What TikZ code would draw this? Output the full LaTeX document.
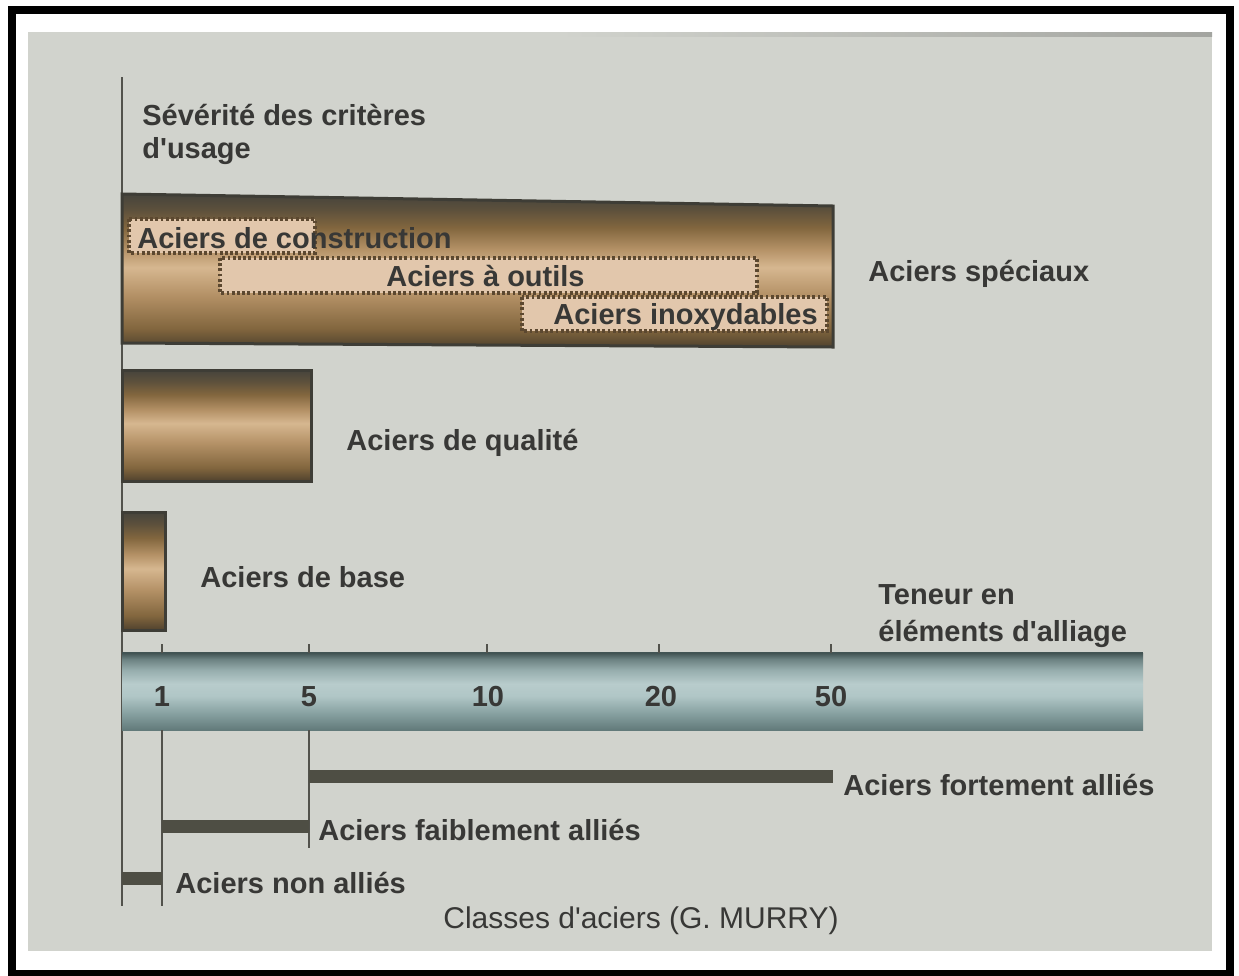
\documentclass[tikz,border=0pt]{standalone}
\usepackage{fontspec}
\setmainfont[Ligatures=TeXOff]{Liberation Sans}
\definecolor{slide}{RGB}{209,211,205}
\definecolor{txt}{RGB}{56,56,54}
\definecolor{axisc}{RGB}{82,82,76}
\definecolor{boxfill}{RGB}{226,199,172}
\definecolor{boxline}{RGB}{92,72,48}
\definecolor{classbar}{RGB}{78,78,68}
\definecolor{barline}{RGB}{62,61,54}
\definecolor{brA}{RGB}{80,66,46}
\definecolor{brB}{RGB}{130,102,62}
\definecolor{brC}{RGB}{180,145,102}
\definecolor{brD}{RGB}{214,183,144}
\definecolor{brE}{RGB}{92,80,60}
\definecolor{brF}{RGB}{70,68,60}
\definecolor{tA}{RGB}{98,122,122}
\definecolor{tB}{RGB}{132,158,158}
\definecolor{tC}{RGB}{176,198,198}
\definecolor{tD}{RGB}{184,204,204}
\definecolor{tE}{RGB}{150,173,173}
\definecolor{tG}{RGB}{108,130,130}
\definecolor{tF}{RGB}{66,84,84}
\pgfdeclareverticalshading{brass}{100bp}{color(0bp)=(brA); color(25bp)=(brA); color(31bp)=(brB); color(42bp)=(brC); color(51bp)=(brD); color(57bp)=(brC); color(64bp)=(brB); color(70bp)=(brE); color(75bp)=(brF); color(100bp)=(brF)}
\pgfdeclareverticalshading{tealbar}{100bp}{color(0bp)=(tA); color(25bp)=(tA); color(35bp)=(tB); color(47bp)=(tC); color(55bp)=(tD); color(64bp)=(tE); color(71bp)=(tG); color(75bp)=(tF); color(100bp)=(tF)}
\tikzset{
  lbl/.style={font=\fontsize{14.5}{17}\selectfont\bfseries, text=txt, inner sep=0pt, anchor=base west},
  numlbl/.style={font=\fontsize{14.5}{17}\selectfont\bfseries, text=txt, inner sep=0pt, anchor=base},
  caption/.style={font=\fontsize{15}{18}\selectfont, text=txt, inner sep=0pt, anchor=base},
  axisline/.style={draw=axisc, line width=1pt},
  brassbar/.style={shading=brass, draw=barline, line width=1.5pt},
  dotbox/.style={fill=boxfill, draw=boxline, line width=1.6pt, dash pattern=on 1.4pt off 1.2pt},
  classbarst/.style={fill=classbar},
}
\begin{document}
\begin{tikzpicture}[x=0.5pt,y=-0.5pt]
\useasboundingbox (0,0) rectangle (1239,976);
\fill[white] (0,0) rectangle (1239,976);
% slide
\fill[slide] (28,32) rectangle (1212,951);
\shade[left color=slide, right color=black!22!slide] (560,32) rectangle (1212,36);
% frame
\draw[black, line width=4pt] (11.5,10) rectangle (1230,974);

% main vertical axis
\draw[axisline] (122,77) -- (122,906);

% title
\node[lbl] (title1) at (142,125) {Sévérité des critères};
\node[lbl] (title2) at (142,158) {d'usage};

% Aciers spéciaux bar
\path[brassbar] (122,194) -- (833,206) -- (833,347) -- (122,343) -- cycle;
\path[dotbox] (129,219) rectangle (315,253);
\path[dotbox] (220,258) rectangle (757,293);
\path[dotbox] (522,297) rectangle (827,331);
\node[lbl] (constr) at (137,248) {Aciers de construction};
\node[lbl] (outils) at (386,286) {Aciers à outils};
\node[lbl] (inox) at (553,324) {Aciers inoxydables};
\node[lbl] (spec) at (868,281) {Aciers spéciaux};

% Aciers de qualité
\path[brassbar] (122,370) rectangle (311,481);
\node[lbl] (qual) at (346,450) {Aciers de qualité};

% Aciers de base
\path[brassbar] (122,512) rectangle (165,630);
\node[lbl] (base) at (200,587) {Aciers de base};

% Teneur axis bar
\node[lbl] (ten1) at (878,604) {Teneur en};
\node[lbl] (ten2) at (878,641) {éléments d'alliage};
\shade[shading=tealbar] (122,653) rectangle (1143,730);
\draw[tF, line width=1pt] (122,653) -- (1143,653);
\foreach \x in {162,309,487,659,831} \draw[axisline] (\x,644) -- (\x,653);
\node[numlbl] (n1) at (162,706) {1};
\node[numlbl] (n5) at (309,706) {5};
\node[numlbl] (n10) at (488,706) {10};
\node[numlbl] (n20) at (661,706) {20};
\node[numlbl] (n50) at (831,706) {50};

% classes
\draw[axisline] (162,730) -- (162,906);
\draw[axisline] (309,730) -- (309,848);
\fill[classbarst] (309,770) rectangle (833,783);
\fill[classbarst] (162,820) rectangle (309,833);
\fill[classbarst] (122,872) rectangle (162,885);
\node[lbl] (fort) at (843,795) {Aciers fortement alliés};
\node[lbl] (faib) at (318,840) {Aciers faiblement alliés};
\node[lbl] (non) at (175,893) {Aciers non alliés};
\node[caption] (cap) at (641,928) {Classes d'aciers (G. MURRY)};
\end{tikzpicture}
\end{document}
